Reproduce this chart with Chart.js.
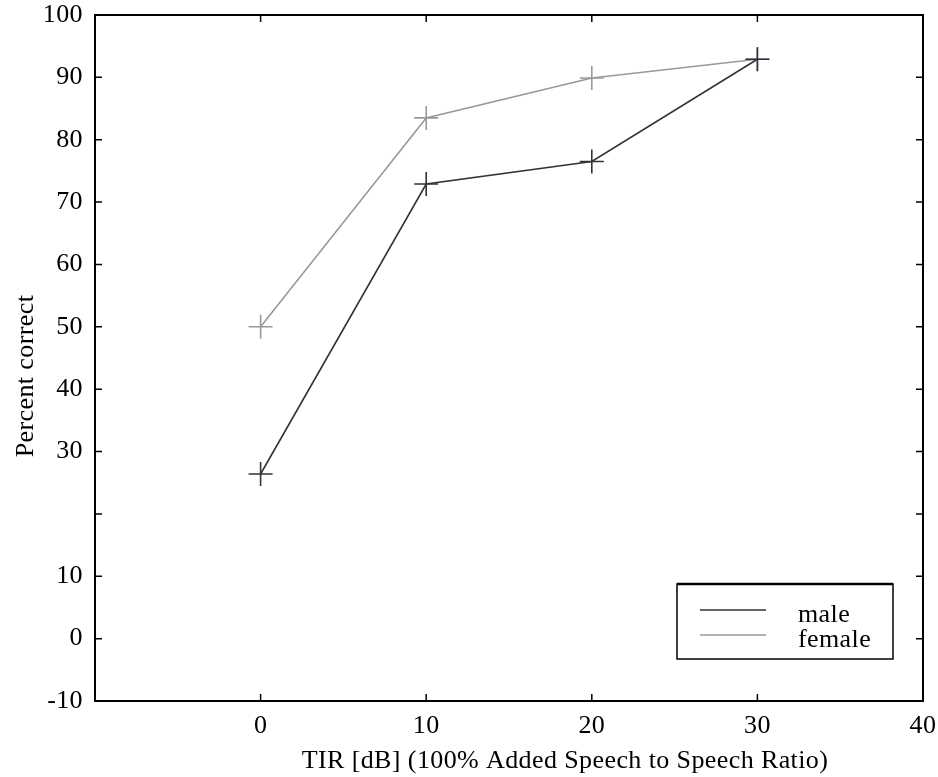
<!DOCTYPE html>
<html>
<head>
<meta charset="utf-8">
<script src="https://cdn.jsdelivr.net/npm/chart.js@4"></script>
<style>
html,body{margin:0;padding:0;background:#fff;}
#wrap{width:938px;height:777px;position:relative;}
</style>
</head>
<body>
<div id="wrap"><canvas id="c" width="938" height="777"></canvas></div>
<script>
const xValues = [0, 10, 20, 30];
const maleValues = [26.4, 72.9, 76.5, 92.9];
const femaleValues = [50.0, 83.5, 89.9, 92.9];
const seriesLabels = ['male', 'female'];
const yTickLabelsShown = [100, 90, 80, 70, 60, 50, 40, 30, 10, 0, -10];
const xTickLabelsShown = [0, 10, 20, 30, 40];
const xTitle = 'TIR [dB] (100% Added Speech to Speech Ratio)';
const yTitle = 'Percent correct';

const FONT = '"Liberation Serif", "Times New Roman", serif';
const FS = 26;
const LS = '0.4px';

const framePlugin = {
  id: 'frame',
  beforeDraw(chart) {
    chart.ctx.letterSpacing = LS;
  },
  afterDraw(chart) {
    const ctx = chart.ctx;
    const a = chart.chartArea;
    const xs = chart.scales.x, ys = chart.scales.y;
    ctx.save();
    ctx.letterSpacing = LS;
    ctx.strokeStyle = '#000';
    ctx.lineWidth = 2;
    ctx.strokeRect(a.left, a.top, a.right - a.left, a.bottom - a.top);
    // inner ticks
    ctx.lineWidth = 1.5;
    const tl = 7;
    for (let v = -10; v <= 100; v += 10) {
      const py = ys.getPixelForValue(v);
      ctx.beginPath();
      ctx.moveTo(a.left, py); ctx.lineTo(a.left + tl, py);
      ctx.moveTo(a.right, py); ctx.lineTo(a.right - tl, py);
      ctx.stroke();
    }
    for (let v = 0; v <= 30; v += 10) {
      const px = xs.getPixelForValue(v);
      ctx.beginPath();
      ctx.moveTo(px, a.bottom); ctx.lineTo(px, a.bottom - tl);
      ctx.moveTo(px, a.top); ctx.lineTo(px, a.top + tl);
      ctx.stroke();
    }
    // axis titles
    ctx.fillStyle = '#000';
    ctx.font = FS + 'px ' + FONT;
    ctx.textAlign = 'center';
    ctx.textBaseline = 'alphabetic';
    ctx.fillText(xTitle, 565, 768);
    ctx.save();
    ctx.translate(33, 376);
    ctx.rotate(-Math.PI / 2);
    ctx.fillText(yTitle, 0, 0);
    ctx.restore();
    // legend
    const lx = 677, ly = 584, lw = 216, lh = 75;
    ctx.lineWidth = 1.5;
    ctx.strokeRect(lx, ly, lw, lh);
    ctx.lineWidth = 2.5;
    ctx.beginPath(); ctx.moveTo(lx, ly); ctx.lineTo(lx + lw, ly); ctx.stroke();
    chart.data.datasets.forEach((ds, i) => {
      const yy = 610 + i * 25;
      ctx.strokeStyle = ds.borderColor;
      ctx.lineWidth = 1.5;
      ctx.beginPath(); ctx.moveTo(700, yy); ctx.lineTo(766, yy); ctx.stroke();
      ctx.fillStyle = '#000';
      ctx.textAlign = 'left';
      ctx.fillText(ds.label, 798, yy + 12);
    });
    ctx.restore();
  }
};

new Chart(document.getElementById('c'), {
  type: 'line',
  data: {
    datasets: [
      {
        label: seriesLabels[0],
        data: xValues.map((x, i) => ({x: x, y: maleValues[i]})),
        borderColor: '#333333',
        pointBorderColor: '#333333',
        borderWidth: 1.6,
        pointStyle: 'cross',
        pointRadius: 12,
        pointBorderWidth: 1.6,
        fill: false,
        tension: 0
      },
      {
        label: seriesLabels[1],
        data: xValues.map((x, i) => ({x: x, y: femaleValues[i]})),
        borderColor: '#999999',
        pointBorderColor: ['#999999', '#999999', '#999999', '#8080c8'],
        borderWidth: 1.6,
        pointStyle: 'cross',
        pointRadius: 12,
        pointBorderWidth: 1.6,
        fill: false,
        tension: 0
      }
    ]
  },
  options: {
    responsive: false,
    animation: false,
    layout: {padding: {left: 0, right: 15, top: 15, bottom: 0}},
    plugins: {legend: {display: false}, tooltip: {enabled: false}},
    scales: {
      x: {
        type: 'linear',
        min: -10, max: 40,
        afterFit(s) { s.height = 76; s.paddingLeft = 0; s.paddingRight = 0; },
        grid: {display: false, drawTicks: false},
        border: {display: false},
        ticks: {
          stepSize: 10,
          padding: 10,
          color: '#000',
          font: {family: FONT, size: FS},
          callback: v => xTickLabelsShown.includes(v) ? String(v) : ''
        }
      },
      y: {
        type: 'linear',
        min: -10, max: 100,
        afterFit(s) { s.width = 95; s.paddingTop = 0; s.paddingBottom = 0; },
        grid: {display: false, drawTicks: false},
        border: {display: false},
        ticks: {
          stepSize: 10,
          padding: 12,
          color: '#000',
          font: {family: FONT, size: FS},
          callback: v => yTickLabelsShown.includes(v) ? String(v) : ''
        }
      }
    }
  },
  plugins: [framePlugin]
});
</script>
</body>
</html>
